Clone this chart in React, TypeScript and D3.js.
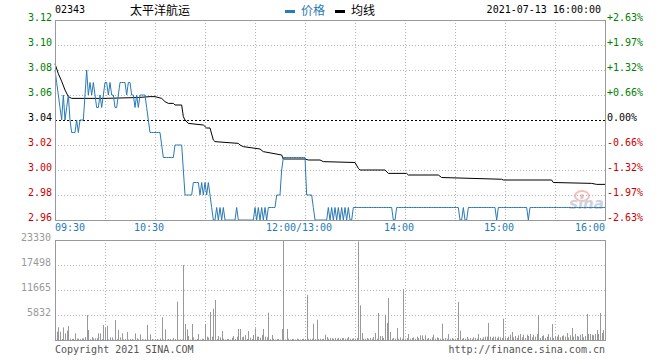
import React from 'react';
import * as d3 from 'd3';

// 02343 太平洋航运 intraday, 2021-07-13, one value per minute (09:30-12:00, 13:00-16:00)
const stockCode = '02343';
const stockName = '太平洋航运';
const stamp = '2021-07-13 16:00:00';
const prevClose = 3.04;

const prices = [
  3.08, 3.07, 3.06, 3.05, 3.04, 3.06, 3.04, 3.05, 3.06, 3.04,
  3.03, 3.03, 3.03, 3.04, 3.03, 3.04, 3.04, 3.04, 3.06, 3.08,
  3.06, 3.07, 3.06, 3.07, 3.06, 3.05, 3.05, 3.06, 3.05, 3.06,
  3.07, 3.07, 3.06, 3.07, 3.06, 3.06, 3.05, 3.05, 3.06, 3.07,
  3.07, 3.07, 3.07, 3.06, 3.07, 3.07, 3.06, 3.06, 3.05, 3.06,
  3.05, 3.06, 3.06, 3.06, 3.06, 3.05, 3.04, 3.03, 3.03, 3.03,
  3.03, 3.03, 3.03, 3.03, 3.02, 3.01, 3.01, 3.01, 3.01, 3.01,
  3.01, 3.01, 3.02, 3.02, 3.02, 3.02, 3.02, 3.00, 2.98, 2.98,
  2.98, 2.98, 2.98, 2.99, 2.99, 2.99, 2.99, 2.98, 2.99, 2.98,
  2.99, 2.98, 2.99, 2.98, 2.97, 2.96, 2.96, 2.97, 2.96, 2.97,
  2.96, 2.97, 2.96, 2.96, 2.96, 2.96, 2.96, 2.96, 2.96, 2.97,
  2.96, 2.96, 2.96, 2.96, 2.96, 2.96, 2.96, 2.96, 2.96, 2.96,
  2.97, 2.96, 2.97, 2.96, 2.97, 2.96, 2.97, 2.96, 2.97, 2.97,
  2.97, 2.97, 2.97, 2.98, 2.98, 2.98, 3.00, 3.01, 3.01, 3.01,
  3.01, 3.01, 3.01, 3.01, 3.01, 3.01, 3.01, 3.01, 3.01, 3.01,
  3.01, 2.98, 2.98, 2.98, 2.98, 2.97, 2.96, 2.96, 2.96, 2.96,
  2.96, 2.96, 2.96, 2.96, 2.97, 2.96, 2.97, 2.96, 2.97, 2.96,
  2.97, 2.96, 2.97, 2.96, 2.97, 2.96, 2.97, 2.96, 2.96, 2.97,
  2.97, 2.97, 2.97, 2.97, 2.97, 2.97, 2.97, 2.97, 2.97, 2.97,
  2.97, 2.97, 2.97, 2.97, 2.97, 2.97, 2.97, 2.97, 2.97, 2.97,
  2.97, 2.97, 2.97, 2.96, 2.96, 2.97, 2.97, 2.97, 2.97, 2.97,
  2.97, 2.97, 2.97, 2.97, 2.97, 2.97, 2.97, 2.97, 2.97, 2.97,
  2.97, 2.97, 2.97, 2.97, 2.97, 2.97, 2.97, 2.97, 2.97, 2.97,
  2.97, 2.97, 2.97, 2.97, 2.97, 2.97, 2.97, 2.97, 2.97, 2.97,
  2.97, 2.97, 2.97, 2.96, 2.96, 2.97, 2.96, 2.96, 2.97, 2.97,
  2.97, 2.97, 2.97, 2.97, 2.97, 2.97, 2.97, 2.97, 2.97, 2.97,
  2.97, 2.97, 2.97, 2.97, 2.97, 2.96, 2.97, 2.97, 2.97, 2.97,
  2.97, 2.97, 2.97, 2.97, 2.97, 2.97, 2.97, 2.97, 2.97, 2.97,
  2.97, 2.97, 2.97, 2.97, 2.96, 2.97, 2.97, 2.97, 2.97, 2.97,
  2.97, 2.97, 2.97, 2.97, 2.97, 2.97, 2.97, 2.97, 2.97, 2.97,
  2.97, 2.97, 2.97, 2.97, 2.97, 2.97, 2.97, 2.97, 2.97, 2.97,
  2.97, 2.97, 2.97, 2.97, 2.97, 2.97, 2.97, 2.97, 2.97, 2.97,
  2.97, 2.97, 2.97, 2.97, 2.97, 2.97, 2.97, 2.97, 2.97, 2.97,
  2.97,
];

const volumes = [
  0, 1950, 2950, 1950, 230, 2950, 1550, 2200, 3270, 350,
  230, 300, 1550, 350, 300, 200, 350, 350, 700, 5830,
  2330, 200, 700, 400, 400, 400, 1550, 1550, 200, 3500,
  2900, 3340, 150, 600, 600, 100, 4660, 200, 2330, 600,
  1550, 150, 230, 1870, 150, 230, 230, 100, 1550, 400,
  150, 1320, 230, 100, 230, 3500, 100, 1320, 230, 100,
  230, 230, 100, 350, 5290, 150, 2490, 100, 230, 230,
  100, 400, 230, 8940, 100, 150, 100, 17500, 3730, 2490,
  930, 100, 3730, 620, 100, 230, 1400, 100, 300, 230,
  3730, 780, 540, 6530, 780, 7310, 9330, 230, 930, 620,
  2100, 300, 100, 230, 230, 100, 540, 930, 230, 780,
  2570, 2570, 620, 780, 1170, 230, 2100, 540, 230, 1170,
  2720, 780, 780, 540, 1170, 2570, 780, 620, 6380, 230,
  1170, 300, 100, 230, 230, 100, 2570, 23330, 100, 2570,
  300, 100, 230, 230, 100, 300, 230, 100, 230, 300,
  230, 10500, 300, 230, 300, 3800, 230, 4740, 230, 300,
  230, 300, 1240, 700, 300, 470, 400, 300, 470, 300,
  470, 300, 470, 470, 300, 400, 700, 300, 300, 400,
  300, 470, 23000, 8090, 1630, 300, 300, 470, 300, 470,
  300, 700, 1630, 300, 6300, 930, 930, 470, 5910, 3970,
  9800, 1870, 300, 470, 300, 2800, 300, 620, 300, 11900,
  300, 470, 1400, 300, 470, 620, 300, 780, 470, 1090,
  1090, 300, 1090, 300, 470, 300, 620, 1240, 300, 620,
  470, 300, 3810, 300, 470, 300, 1400, 300, 470, 300,
  300, 470, 8870, 2180, 300, 470, 300, 700, 300, 470,
  300, 620, 470, 300, 1400, 470, 300, 620, 780, 780,
  3970, 780, 470, 780, 780, 470, 780, 620, 470, 4980,
  620, 470, 780, 1240, 1870, 620, 930, 470, 1090, 1400,
  620, 1240, 470, 1240, 930, 1400, 620, 1240, 780, 1400,
  5760, 470, 930, 1090, 470, 780, 1400, 620, 3730, 470,
  930, 780, 1240, 620, 930, 1090, 780, 1630, 620, 1090,
  2800, 780, 1400, 930, 780, 1240, 1400, 620, 930, 6070,
  1400, 1400, 1240, 1090, 1400, 2330, 1400, 6300, 1630, 2330,
  1480,
];

// average price line, read at its turning points
const avgMinutes = [0, 2, 4, 6, 8, 10, 30, 50, 57, 60, 64, 66, 68, 71, 72, 76, 77, 78, 80, 89, 91, 93, 95, 96, 110, 111, 113, 123, 125, 136, 137, 150, 152, 159, 161, 180, 182, 183, 198, 200, 211, 212, 230, 232, 268, 269, 298, 299, 322, 325, 330];
const avgValues = [3.085, 3.077, 3.071, 3.064, 3.0587, 3.0573, 3.0573, 3.058, 3.0587, 3.0587, 3.0573, 3.0547, 3.0533, 3.0533, 3.052, 3.052, 3.0427, 3.04, 3.0373, 3.036, 3.0336, 3.0336, 3.024, 3.0227, 3.0213, 3.02, 3.0187, 3.0168, 3.0147, 3.012, 3.0088, 3.0088, 3.008, 3.008, 3.0067, 3.006, 3.0013, 3.0, 3.0, 2.9973, 2.9973, 2.996, 2.996, 2.994, 2.9926, 2.992, 2.992, 2.99, 2.9893, 2.9885, 2.9885];

const priceTicks = [3.12, 3.10, 3.08, 3.06, 3.04, 3.02, 3.00, 2.98, 2.96];
const volumeTicks = [23330, 17498, 11665, 5832];
const timeTicks = [0, 30, 60, 90, 120, 150, 180, 210, 240, 270, 300, 330];
const timeLabels = [
  { m: 0, text: '09:30' },
  { m: 60, text: '10:30' },
  { m: 150, text: '12:00/13:00' },
  { m: 210, text: '14:00' },
  { m: 270, text: '15:00' },
  { m: 330, text: '16:00' },
];

const W = 660;
const H = 360;
const mono = '"DejaVu Sans Mono", monospace';
const cjk = '"Noto Sans CJK SC", sans-serif';
const blue = '#2a7ab6';
const green = '#008000';
const red = '#cc0000';
const grid = '#b4b4b4';
const frame = '#999999';

const App = () => {
  const x = d3.scaleLinear().domain([0, 330]).range([55, 605]);
  const y = d3.scaleLinear().domain([2.96, 3.12]).range([220, 20]);
  const yv = d3.scaleLinear().domain([0, 23330]).range([340, 240]);

  const priceLine = d3.line<number>()
    .x((d, i) => x(i))
    .y(d => y(d))(prices);

  const avgLine = d3.line<number>()
    .x((d, i) => x(avgMinutes[i]))
    .y(d => y(d))(avgValues);

  const tickColor = (v: number) => {
    const r = Math.round((v - prevClose) * 100);
    return r > 0 ? green : r < 0 ? red : '#000';
  };
  const pctText = (v: number) => {
    const p = (v - prevClose) / prevClose * 100;
    if (Math.abs(p) < 0.001) return '0.00%';
    return (p > 0 ? '+' : '-') + Math.abs(p).toFixed(2) + '%';
  };

  return (
    <div style={{ position: 'absolute', left: 0, top: 0 }}>
      <svg width={W} height={H} style={{ display: 'block', background: '#fff' }}>
        {/* header */}
        <text x={55} y={13} fontFamily={mono} fontSize={10} fill="#000">{stockCode}</text>
        <text x={130} y={15} fontFamily={cjk} fontSize={12} fill="#000">{stockName}</text>
        <rect x={285} y={10} width={10} height={3} fill={blue} />
        <text x={301} y={15} fontFamily={cjk} fontSize={12} fill={blue}>价格</text>
        <rect x={335} y={10} width={10} height={3} fill="#000" />
        <text x={351} y={15} fontFamily={cjk} fontSize={12} fill="#000">均线</text>
        <text x={601} y={13} textAnchor="end" fontFamily={mono} fontSize={10} fill="#000">{stamp}</text>

        {/* price grid */}
        {priceTicks.slice(1, -1).filter(v => v !== prevClose).map(v => (
          <line key={'h' + v} x1={55} x2={605} y1={Math.round(y(v)) + 0.5} y2={Math.round(y(v)) + 0.5}
            stroke={grid} strokeDasharray="1,2" />
        ))}
        {timeTicks.slice(1, -1).map(m => (
          <line key={'v' + m} x1={Math.round(x(m)) + 0.5} x2={Math.round(x(m)) + 0.5} y1={20} y2={220}
            stroke={grid} strokeDasharray="1,2" />
        ))}
        <line x1={55} x2={605} y1={y(prevClose) + 0.5} y2={y(prevClose) + 0.5} stroke="#000" strokeDasharray="2,2" />

        {/* watermark */}
        <g opacity={0.55}>
          <ellipse cx={582} cy={196} rx={7} ry={5} fill="none" stroke="#e88" strokeWidth={2} />
          <circle cx={582} cy={196} r={2} fill="#e88" />
          <text x={569} y={209} fontFamily='"DejaVu Sans", sans-serif' fontSize={15} fontStyle="italic" fontWeight="bold" fill="#a8adb8">sina</text>
        </g>

        <path d={avgLine ?? ''} fill="none" stroke="#000" strokeWidth={1} />
        <path d={priceLine ?? ''} fill="none" stroke={blue} strokeWidth={1} />

        <rect x={55.5} y={20.5} width={550} height={200} fill="none" stroke={frame} />

        {/* price axes */}
        {priceTicks.map(v => (
          <text key={'l' + v} x={52} y={y(v) + 1} textAnchor="end" fontFamily={mono} fontSize={10} fill={tickColor(v)}>
            {v.toFixed(2)}
          </text>
        ))}
        {priceTicks.map(v => (
          <text key={'r' + v} x={607} y={y(v) + 1} fontFamily={mono} fontSize={10} fill={tickColor(v)}>
            {pctText(v)}
          </text>
        ))}
        {timeLabels.map((t, i) => (
          <text key={t.text} x={i === 0 ? x(t.m) : i === timeLabels.length - 1 ? x(t.m) : x(t.m) - 6}
            y={231} textAnchor={i === 0 ? 'start' : i === timeLabels.length - 1 ? 'end' : 'middle'}
            fontFamily={mono} fontSize={10} fill="#1e7bb8">
            {t.text}
          </text>
        ))}

        {/* volume panel */}
        {volumeTicks.slice(1).map(v => (
          <line key={'vh' + v} x1={55} x2={605} y1={Math.round(yv(v)) + 0.5} y2={Math.round(yv(v)) + 0.5}
            stroke={grid} strokeDasharray="1,2" />
        ))}
        {timeTicks.slice(1, -1).map(m => (
          <line key={'vv' + m} x1={Math.round(x(m)) + 0.5} x2={Math.round(x(m)) + 0.5} y1={240} y2={340}
            stroke={grid} strokeDasharray="1,2" />
        ))}
        {volumes.map((v, i) => v > 0 && (
          <rect key={'b' + i} x={Math.round(x(i))} y={yv(v)} width={1} height={340 - yv(v)} fill="#999" />
        ))}
        <rect x={55.5} y={240.5} width={550} height={100} fill="none" stroke={frame} />
        {volumeTicks.map(v => (
          <text key={'vt' + v} x={51} y={yv(v) + 1} textAnchor="end" fontFamily={mono} fontSize={10} fill="#999">
            {v}
          </text>
        ))}

        {/* footer */}
        <text x={55} y={353} fontFamily={mono} fontSize={10} fill="#555">Copyright 2021 SINA.COM</text>
        <text x={605} y={353} textAnchor="end" fontFamily={mono} fontSize={10} fill="#555">http://finance.sina.com.cn</text>
      </svg>
    </div>
  );
};

export default App;
